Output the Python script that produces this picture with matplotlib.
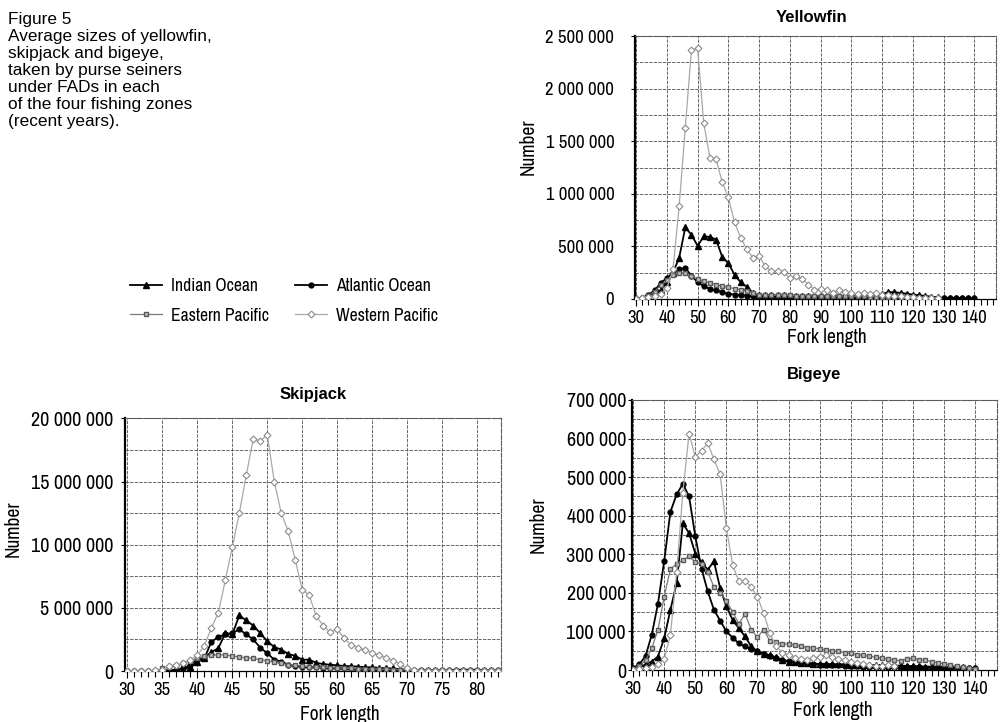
#
# Figure 5 : tailles moyennes albacore / listao / patudo sous DCP
#

import numpy as np
import matplotlib
matplotlib.use("Agg")
import matplotlib.pyplot as plt
from matplotlib import font_manager as fm
from matplotlib.ticker import MultipleLocator, FuncFormatter
from matplotlib.lines import Line2D

# police etroite si dispo, sinon Roboto un peu plus petit
narrow = None
for f in fm.fontManager.ttflist:
    if 'Narrow' in f.name or 'Condensed' in f.name:
        narrow = (f.name, 'normal')
        break
    if f.stretch in ('condensed', 'semi-condensed') and f.weight in (400, 'normal', 'regular'):
        narrow = (f.name, f.stretch)
if narrow is None:
    plt.rcParams['font.family'] = ['Roboto', 'DejaVu Sans']
    K = 0.86
    title_family = ['Roboto', 'DejaVu Sans']
else:
    plt.rcParams['font.family'] = [narrow[0], 'DejaVu Sans']
    plt.rcParams['font.stretch'] = narrow[1]
    K = 1.0
    has_bold = any(f.name == narrow[0] and f.weight in (600, 700, 800, 'bold')
                   for f in fm.fontManager.ttflist)
    title_family = [narrow[0]] if has_bold else ['Liberation Sans', 'DejaVu Sans']

# ---- donnees (milliers d'individus) ----
yf_len = list(range(30, 141, 2))
yf_indian = [5, 10, 30, 60, 80, 160, 250, 390, 680, 610, 505, 595, 590, 565, 400, 340,
             230, 158, 114, 57, 40, 36, 35, 34, 33, 32, 31, 30, 30, 29, 28, 28, 27, 27,
             26, 26, 27, 28, 30, 35, 45, 66, 63, 57, 50, 41, 35, 28, 22, 15, 10, 8, 7,
             6, 5, 5]
yf_atlantic = [0, 10, 40, 80, 150, 200, 250, 280, 295, 220, 158, 120, 95, 80, 63, 50,
               41, 36, 32, 28, 25, 24, 23, 22, 22, 21, 20, 20, 19, 18, 18, 17, 17, 16,
               16, 15, 15, 14, 14, 13, 13, 12, 12, 12, 11, 11, 10, 10, 10, 9, 9, 9, 8,
               8, 8, 8]
yf_eastern = [0, 5, 30, 70, 130, 180, 230, 250, 245, 220, 190, 168, 152, 136, 120, 110,
              98, 88, 79, 57, 41, 38, 36, 35, 34, 33, 32, 31, 30, 29, 28, 27, 26, 26,
              25, 24, 24, 23, 22, 21, 20, 19, 18, 16, 14, 12, 10, 8, 6, 4]
yf_western = [0, 10, 20, 30, 50, 100, 280, 880, 1630, 2370, 2385, 1670, 1345, 1330,
              1110, 965, 730, 580, 475, 390, 405, 310, 262, 262, 253, 200, 215, 190,
              136, 88, 95, 80, 57, 80, 66, 57, 47, 57, 50, 57, 41, 41, 32, 25, 20, 18,
              10, 10, 5, 5]

sj_len = list(range(30, 84))
sj_indian = [0, 0, 0, 0, 0, 0, 0, 50, 150, 300, 750, 1050, 1500, 1800, 3000, 2900,
             4400, 4000, 3600, 3000, 2350, 1900, 1700, 1350, 1200, 900, 900, 650, 550,
             500, 450, 400, 380, 350, 300, 300, 250, 220, 200, 150, 100, 50, 50, 50,
             50, 50, 50, 100, 100, 100, 100, 50, 50, 50]
sj_atlantic = [0, 0, 0, 0, 0, 0, 50, 100, 200, 500, 900, 1000, 2300, 2700, 2900, 3000,
               3300, 2900, 2500, 1850, 1400, 900, 750, 500, 400, 350, 300, 300, 250,
               250, 200, 200, 180, 160, 150, 130, 120, 100, 80, 70, 50, 30, 30, 30, 30,
               30, 30, 30, 20, 20, 20, 20, 20, 20]
sj_eastern = [20, 20, 20, 20, 30, 200, 300, 400, 600, 800, 1000, 1150, 1250, 1300, 1250,
              1200, 1100, 1050, 1000, 900, 800, 700, 600, 500, 450, 400, 350, 300, 280,
              260, 240, 220, 200, 180, 160, 150, 140, 130, 120, 110, 100, 60, 50, 50,
              50, 50, 50, 50, 50, 50, 50, 50, 50, 50]
sj_western = [20, 20, 20, 30, 50, 100, 420, 500, 600, 900, 1240, 2000, 3400, 4600, 7200,
              9800, 12500, 15500, 18400, 18200, 18700, 15000, 12500, 11050, 8800, 6450,
              6000, 4350, 3600, 3050, 3300, 2600, 2050, 1850, 1650, 1450, 1250, 1050,
              800, 550, 200, 50, 30, 30, 30, 30, 30, 30, 30, 30, 30, 30, 30, 30]

be_len = list(range(30, 141, 2))
be_indian = [0, 5, 15, 22, 35, 82, 156, 225, 380, 355, 302, 279, 260, 282, 212, 165,
             130, 108, 87, 61, 48, 42, 38, 33, 26, 22, 20, 18, 17, 16, 16, 16, 15, 15,
             15, 14, 14, 14, 13, 13, 13, 12, 12, 11, 11, 10, 10, 9, 9, 9, 8, 8, 7, 7,
             6, 5]
be_atlantic = [5, 15, 36, 91, 172, 282, 410, 455, 483, 450, 347, 263, 204, 156, 128, 100,
               84, 69, 61, 54, 48, 42, 36, 30, 26, 23, 21, 19, 17, 16, 14, 13, 12, 12,
               11, 10, 10, 9, 9, 8, 8, 8, 7, 7, 7, 7, 7, 6, 6, 6, 6, 6, 5, 5, 5, 5]
be_eastern = [3, 10, 25, 56, 104, 190, 262, 275, 285, 295, 280, 275, 255, 215, 200, 180,
              150, 120, 145, 105, 85, 105, 75, 72, 68, 67, 65, 62, 58, 57, 55, 52, 50,
              48, 45, 43, 40, 38, 36, 33, 30, 28, 26, 24, 28, 30, 27, 25, 22, 19, 16,
              13, 10, 8, 5, 3]
be_western = [0, 3, 5, 8, 15, 28, 91, 253, 460, 613, 553, 568, 588, 546, 507, 368, 273,
              230, 232, 215, 189, 147, 95, 61, 45, 38, 32, 28, 25, 30, 35, 38, 33, 28,
              25, 22, 18, 15, 12, 10, 10, 12, 10]

zones = ['Indian Ocean', 'Atlantic Ocean', 'Eastern Pacific', 'Western Pacific']

# style de chaque zone
styles = {
    'Indian Ocean': dict(color='k', marker='^', ms=4, mfc='k', mec='k', lw=1.3),
    'Atlantic Ocean': dict(color='k', marker='o', ms=3.5, mfc='k', mec='k', lw=1.3),
    'Eastern Pacific': dict(color='#7a7a7a', marker='s', ms=3.5, mfc='#bdbdbd',
                            mec='#5a5a5a', lw=0.9),
    'Western Pacific': dict(color='#a8a8a8', marker='D', ms=3.5, mfc='white',
                            mec='#8c8c8c', lw=0.9, mew=0.8),
}


def fmt(v, pos):
    return f"{v:,.0f}".replace(',', ' ')


def draw(ax, x, series, title, ty, xlim, ylim, xmaj, xmin, ymaj, ymin, tpad, ysize):
    for z, vals in zip(zones, series):
        ax.plot(x[:len(vals)], np.array(vals) * 1000, **styles[z], zorder=3)
    ax.set_xlim(*xlim)
    ax.set_ylim(*ylim)
    ax.xaxis.set_major_locator(MultipleLocator(xmaj))
    ax.xaxis.set_minor_locator(MultipleLocator(xmin))
    ax.yaxis.set_major_locator(MultipleLocator(ymaj))
    ax.yaxis.set_minor_locator(MultipleLocator(ymin))
    ax.yaxis.set_major_formatter(FuncFormatter(fmt))
    ax.grid(True, which='major', color='0.3', lw=0.6, ls=(0, (4, 1.5)))
    ax.grid(True, which='minor', axis='y', color='0.3', lw=0.6, ls=(0, (4, 1.5)))
    ax.tick_params(axis='x', labelsize=13.5 * K, colors='k')
    ax.tick_params(axis='y', labelsize=ysize * K, colors='k')
    ax.tick_params(axis='x', which='major', length=5, width=0.8, pad=3)
    ax.tick_params(axis='x', which='minor', length=4, width=0.8)
    ax.tick_params(axis='y', which='major', length=3, width=0.8, pad=tpad)
    ax.tick_params(axis='y', which='minor', length=0)
    ax.spines['left'].set_linewidth(1.6)
    ax.spines['bottom'].set_linewidth(0.9)
    for s in ('top', 'right'):
        ax.spines[s].set_color('0.35')
        ax.spines[s].set_linewidth(0.8)
        ax.spines[s].set_linestyle((0, (4, 1.5)))
    ax.set_title(title, fontsize=12 * K, fontweight='bold', pad=12, y=ty,
                 family=title_family)
    ax.set_xlabel('Fork length', fontsize=14 * K)
    ax.set_ylabel('Number', fontsize=14 * K)


fig = plt.figure(figsize=(10.05, 7.22), dpi=100)

ax1 = fig.add_axes([0.632, 0.586, 0.359, 0.364])
draw(ax1, yf_len, [yf_indian, yf_atlantic, yf_eastern, yf_western], 'Yellowfin', 0.992,
     (29.7, 147), (0, 2500000), 10, 2, 500000, 250000, 12, 13.5)
ax1.title.set_x(0.49)
ax1.xaxis.set_label_coords(0.53, -0.11)
ax1.yaxis.set_label_coords(-0.27, 0.58)

ax2 = fig.add_axes([0.124, 0.0706, 0.375, 0.350])
draw(ax2, sj_len, [sj_indian, sj_atlantic, sj_eastern, sj_western], 'Skipjack', 1.012,
     (29.6, 83.5), (0, 20000000), 5, 1, 5000000, 2500000, 5, 14.5)
ax2.xaxis.set_label_coords(0.57, -0.134)
ax2.yaxis.set_label_coords(-0.27, 0.565)

ax3 = fig.add_axes([0.629, 0.072, 0.363, 0.374])
draw(ax3, be_len, [be_indian, be_atlantic, be_eastern, be_western], 'Bigeye', 1.015,
     (29.7, 147), (0, 700000), 10, 2, 100000, 50000, 1.5, 14.5)
ax3.xaxis.set_label_coords(0.55, -0.115)
ax3.yaxis.set_label_coords(-0.233, 0.54)

# legende commune
handles = [Line2D([], [], **styles[z]) for z in zones]
order = [0, 2, 1, 3]
fig.legend([handles[i] for i in order], [zones[i] for i in order],
           loc='center', bbox_to_anchor=(284 / 1005, 1 - 301 / 722), ncol=2,
           frameon=False, fontsize=12.7 * K, handlelength=1.8, columnspacing=1.5,
           labelspacing=0.75, handletextpad=0.5)

fig.text(0.008, 1 - 12 / 722,
         "Figure 5\nAverage sizes of yellowfin,\nskipjack and bigeye,\n"
         "taken by purse seiners\nunder FADs in each\nof the four fishing zones\n"
         "(recent years).", fontsize=12.4, va='top', ha='left', linespacing=1.17,
         family=['Liberation Sans', 'DejaVu Sans'])

fig.savefig('out.png', dpi=100)
